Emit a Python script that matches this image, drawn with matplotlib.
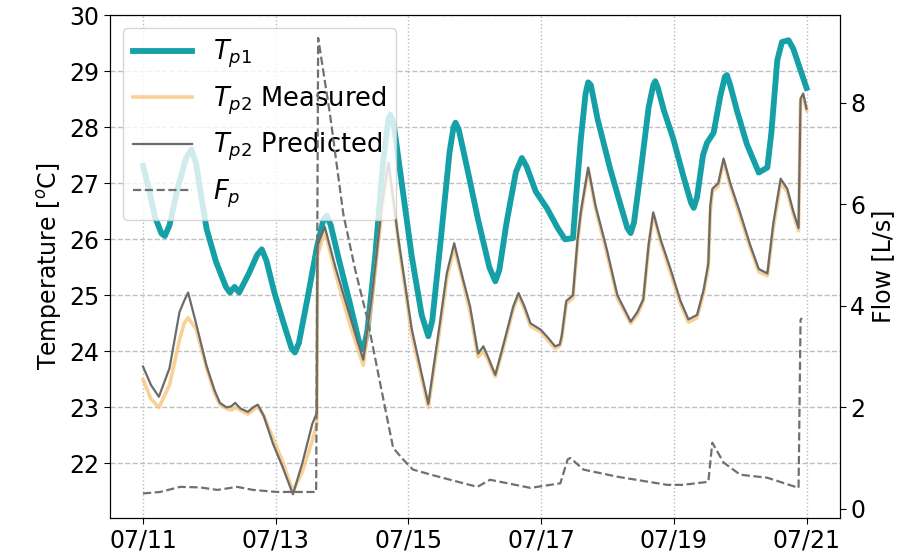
import numpy as np
import pandas as pd
import matplotlib
matplotlib.use('Agg')
import matplotlib.pyplot as plt
import matplotlib.dates as mdates

# data (time in days after 07/11 00:00)
start = pd.Timestamp("2019-07-11")

tp1_days = [0.00, 0.08, 0.18, 0.28, 0.33, 0.40, 0.52, 0.65, 0.73, 0.80, 0.88, 0.96, 1.10, 1.25,
            1.31, 1.38, 1.45, 1.60, 1.72, 1.79, 1.86, 1.98, 2.12, 2.24, 2.29, 2.35, 2.48, 2.62,
            2.72, 2.77, 2.83, 2.95, 3.12, 3.26, 3.32, 3.38, 3.50, 3.62, 3.70, 3.73, 3.78, 3.90,
            4.05, 4.20, 4.30, 4.36, 4.48, 4.62, 4.68, 4.71, 4.76, 4.88, 5.05, 5.22, 5.31, 5.37,
            5.48, 5.62, 5.71, 5.78, 5.92, 6.09, 6.25, 6.36, 6.48, 6.53, 6.60, 6.67, 6.71, 6.75,
            6.85, 7.04, 7.20, 7.30, 7.35, 7.40, 7.50, 7.62, 7.69, 7.72, 7.76, 7.85, 7.99, 8.15,
            8.26, 8.30, 8.35, 8.44, 8.50, 8.60, 8.70, 8.77, 8.80, 8.85, 8.95, 9.10, 9.28, 9.41,
            9.47, 9.56, 9.63, 9.73, 9.80, 9.90, 10.00]
tp1_vals = [27.31, 26.95, 26.40, 26.10, 26.06, 26.25, 26.90, 27.45, 27.60, 27.35, 26.75, 26.18, 25.60, 25.15,
            25.05, 25.15, 25.05, 25.40, 25.72, 25.82, 25.62, 25.05, 24.50, 24.05, 23.98, 24.15, 24.95, 25.85,
            26.35, 26.42, 26.25, 25.65, 24.85, 24.15, 24.03, 24.35, 25.70, 27.40, 28.15, 28.22, 28.05, 27.00,
            25.70, 24.65, 24.27, 24.55, 25.90, 27.55, 28.00, 28.08, 27.95, 27.30, 26.35, 25.50, 25.25, 25.45,
            26.30, 27.20, 27.45, 27.30, 26.85, 26.55, 26.20, 26.00, 26.02, 26.80, 27.80, 28.60, 28.80, 28.75,
            28.15, 27.26, 26.60, 26.20, 26.11, 26.30, 27.20, 28.35, 28.75, 28.82, 28.70, 28.30, 27.80, 27.10,
            26.65, 26.56, 26.75, 27.50, 27.72, 27.90, 28.55, 28.90, 28.93, 28.75, 28.30, 27.70, 27.19, 27.28,
            27.90, 29.20, 29.52, 29.55, 29.40, 29.05, 28.70]

tp2_days = [0.00, 0.12, 0.24, 0.40, 0.55, 0.62, 0.68, 0.80, 0.96, 1.08, 1.16, 1.26, 1.33, 1.39,
            1.47, 1.58, 1.66, 1.73, 1.82, 1.96, 2.10, 2.26, 2.40, 2.55, 2.62, 2.63, 2.74, 2.90,
            3.10, 3.32, 3.45, 3.60, 3.70, 3.85, 4.05, 4.30, 4.45, 4.58, 4.69, 4.82, 4.93, 5.05,
            5.13, 5.20, 5.31, 5.45, 5.58, 5.66, 5.75, 5.84, 5.99, 6.10, 6.21, 6.28, 6.31, 6.38,
            6.48, 6.55, 6.60, 6.71, 6.82, 6.99, 7.15, 7.35, 7.45, 7.54, 7.62, 7.69, 7.80, 7.95,
            8.10, 8.22, 8.35, 8.45, 8.52, 8.55, 8.58, 8.67, 8.75, 8.85, 9.00, 9.15, 9.28, 9.41,
            9.50, 9.61, 9.71, 9.80, 9.88, 9.91, 9.95, 10.00]
tp2_pred = [23.73, 23.40, 23.19, 23.70, 24.70, 24.90, 25.05, 24.50, 23.73, 23.30, 23.08, 23.00, 23.02, 23.08,
            22.98, 22.92, 23.00, 23.05, 22.85, 22.35, 21.95, 21.45, 22.00, 22.70, 22.90, 25.90, 26.22, 25.50,
            24.70, 23.85, 25.00, 26.60, 27.37, 26.00, 24.40, 23.06, 24.30, 25.40, 25.93, 25.30, 24.80, 23.96,
            24.09, 23.90, 23.58, 24.20, 24.80, 25.04, 24.80, 24.50, 24.39, 24.25, 24.09, 24.12, 24.27, 24.90,
            25.00, 26.00, 26.50, 27.28, 26.60, 25.82, 25.00, 24.53, 24.70, 24.93, 25.90, 26.48, 26.00, 25.47,
            24.90, 24.57, 24.65, 25.10, 25.57, 26.60, 26.90, 27.00, 27.44, 27.00, 26.47, 25.90, 25.47, 25.39,
            26.29, 27.08, 26.90, 26.50, 26.20, 28.51, 28.60, 28.33]
tp2_meas = [23.50, 23.15, 23.00, 23.40, 24.20, 24.50, 24.60, 24.40, 23.70, 23.25, 23.05, 22.98, 22.95, 23.00,
            22.95, 22.88, 22.95, 23.02, 22.85, 22.45, 22.05, 21.50, 21.85, 22.40, 22.70, 25.70, 26.15, 25.40,
            24.55, 23.75, 24.90, 26.50, 27.35, 25.95, 24.30, 23.00, 24.20, 25.30, 25.85, 25.25, 24.70, 23.90,
            24.00, 23.85, 23.55, 24.15, 24.75, 25.00, 24.75, 24.45, 24.35, 24.20, 24.05, 24.10, 24.22, 24.85,
            24.95, 25.95, 26.45, 27.25, 26.55, 25.75, 24.95, 24.50, 24.65, 24.90, 25.85, 26.45, 25.95, 25.40,
            24.85, 24.52, 24.60, 25.05, 25.50, 26.50, 26.85, 26.95, 27.40, 26.95, 26.40, 25.85, 25.42, 25.35,
            26.20, 27.00, 26.85, 26.45, 26.15, 28.45, 28.55, 28.30]

flow_days = [0.00, 0.26, 0.56, 0.86, 1.12, 1.42, 1.66, 2.02, 2.61, 2.64, 2.82, 3.02, 3.20, 3.38,
             3.57, 3.77, 3.92, 4.07, 4.37, 4.63, 5.04, 5.23, 5.84, 6.29, 6.40, 6.44, 6.64, 7.15,
             7.90, 8.14, 8.52, 8.58, 8.75, 9.00, 9.41, 9.88, 9.91, 9.93]
flow_vals = [0.30, 0.33, 0.43, 0.42, 0.37, 0.43, 0.37, 0.33, 0.33, 9.28, 7.76, 5.80, 4.70, 3.75,
             2.50, 1.20, 0.97, 0.77, 0.66, 0.57, 0.43, 0.57, 0.41, 0.50, 0.97, 1.00, 0.77, 0.63,
             0.47, 0.47, 0.53, 1.30, 0.91, 0.67, 0.61, 0.41, 3.72, 3.76]

to_time = lambda d: start + pd.to_timedelta(d, unit='D')

plt.rcParams['font.family'] = ['DejaVu Sans']
fig = plt.figure(figsize=(9, 5.58), dpi=100)
ax = fig.add_axes([0.122, 0.072, 0.811, 0.901])
ax2 = ax.twinx()

l1, = ax.plot(to_time(tp1_days), tp1_vals, color='#14a0a6', lw=4.2, label=r'$T_{p1}$',
              solid_joinstyle='round')
l2, = ax.plot(to_time(tp2_days), tp2_meas, color='#f8c67a', lw=2.6, alpha=0.8, label=r'$T_{p2}$ Measured')
l3, = ax.plot(to_time(tp2_days), tp2_pred, color='#6b6b6b', lw=1.6, label=r'$T_{p2}$ Predicted')
l4, = ax2.plot(to_time(flow_days), flow_vals, color='#707070', lw=1.6, ls='--', label=r'$F_p$')

ax.set_xlim(to_time(-0.5), to_time(10.5))
ax.set_ylim(21.03, 30)
ax2.set_ylim(-0.18, 9.73)
ax.set_yticks([22, 23, 24, 25, 26, 27, 28, 29, 30])
ax2.set_yticks([0, 2, 4, 6, 8])

ax.xaxis.set_major_locator(mdates.DayLocator(bymonthday=[11, 13, 15, 17, 19, 21]))
ax.xaxis.set_major_formatter(mdates.DateFormatter('%m/%d'))

ax.xaxis.grid(True, ls=':', color='#bbbbbb', lw=1.0)
ax.yaxis.grid(True, ls='--', color='#c0c0c0', lw=1.0)

ax.tick_params(labelsize=17, length=4)
ax2.tick_params(labelsize=17, length=4)
ax.set_ylabel(r'Temperature [$^o$C]', fontsize=17)
ax2.set_ylabel('Flow [L/s]', fontsize=17)

ax.legend(handles=[l1, l2, l3, l4], loc='upper left', fontsize=18.5,
          handlelength=2.3, labelspacing=0.55)

plt.savefig('out.png', dpi=100)
